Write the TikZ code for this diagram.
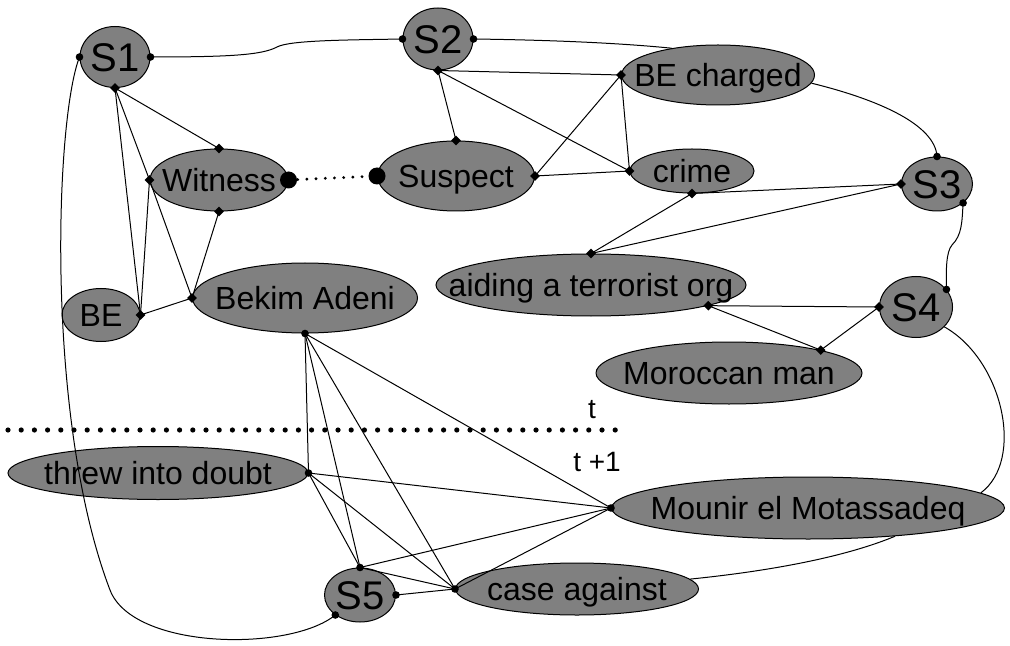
\documentclass[tikz,border=0pt]{standalone}
\usepackage{fontspec}
\setmainfont{Liberation Sans}
\usetikzlibrary{shapes.geometric}
\definecolor{nodegray}{RGB}{128,128,128}
\tikzset{
  ell/.style={ellipse, draw=black, fill=nodegray, inner sep=0pt, line width=0.5pt},
  etxt/.style={font=\fontsize{16}{18}\selectfont, inner sep=0pt, text height=11.5pt, text depth=0pt},
  stxt/.style={font=\fontsize{20}{22}\selectfont, inner sep=0pt, text height=14.3pt, text depth=0pt},
  dotc/.style={circle, fill=black, inner sep=0pt, minimum size=3.8pt},
  dotd/.style={diamond, fill=black, inner sep=0pt, minimum size=5pt},
  bigdot/.style={circle, fill=black, inner sep=0pt, minimum size=8.5pt},
  conn/.style={line width=0.5pt},
  timeline/.style={line width=2.6pt, line cap=round, dash pattern=on 0pt off 6.6pt},
  smalldots/.style={line width=1.6pt, line cap=round, dash pattern=on 0pt off 4.6pt},
  lbl/.style={font=\fontsize{14}{16}\selectfont, inner sep=0pt}
}
\begin{document}
\begin{tikzpicture}[x=0.5pt,y=-0.5pt]
\useasboundingbox (0,0) rectangle (1010,646);
% nodes
\node[ell, minimum width=35pt, minimum height=30.5pt, label={[stxt]center:S1}] (S1) at (115,57) {};
\node[ell, minimum width=35pt, minimum height=31pt, label={[stxt]center:S2}] (S2) at (438,39) {};
\node[ell, minimum width=96.5pt, minimum height=30pt, label={[etxt]center:BE charged}] (BEc) at (718,75) {};
\node[ell, minimum width=69pt, minimum height=31pt, label={[etxt]center:Witness}] (Wit) at (219,180) {};
\node[ell, minimum width=78.5pt, minimum height=35pt, label={[etxt]center:Suspect}] (Sus) at (456,176) {};
\node[ell, minimum width=62pt, minimum height=22pt, label={[etxt]center:crime}] (crime) at (692,171) {};
\node[ell, minimum width=35.5pt, minimum height=27pt, label={[stxt]center:S3}] (S3) at (937,184) {};
\node[ell, minimum width=39pt, minimum height=26.5pt, label={[etxt]center:BE}] (BE) at (101,315) {};
\node[ell, minimum width=112.5pt, minimum height=35pt, label={[etxt]center:Bekim Adeni}] (Bek) at (305,298) {};
\node[ell, minimum width=155pt, minimum height=31pt, label={[etxt]center:aiding a terrorist org}] (aid) at (591,285) {};
\node[ell, minimum width=36.5pt, minimum height=30.5pt, label={[stxt]center:S4}] (S4) at (916,307) {};
\node[ell, minimum width=133pt, minimum height=31pt, label={[etxt]center:Moroccan man}] (Mor) at (729,373) {};
\node[ell, minimum width=150pt, minimum height=26.5pt, label={[etxt]center:threw into doubt}] (threw) at (158,473) {};
\node[ell, minimum width=196.5pt, minimum height=31pt, label={[etxt]center:Mounir el Motassadeq}] (Mou) at (808,508) {};
\node[ell, minimum width=35.5pt, minimum height=27pt, label={[stxt]center:S5}] (S5) at (360,595) {};
\node[ell, minimum width=121.5pt, minimum height=26pt, label={[etxt]center:case against}] (case) at (577,589) {};
% time separator
\coordinate (tl) at (8,430);
\coordinate (tr) at (625,430);
\draw[timeline] (tl) -- (tr);
\node[lbl] (t) at (592,410) {t};
\node[lbl] (t1) at (597,462) {t +1};
% curved connectors
\draw[conn] (S1.east) .. controls (230,57) and (262,55) .. (277,47) .. controls (290,40) and (350,40) .. (S2.west);
\draw[conn] (S2.east) .. controls (550,40) and (620,43) .. (BEc.150);
\draw[conn] (BEc.-5) .. controls (880,100) and (935,125) .. (S3.north);
\draw[conn] (S3.-36) .. controls (962,222) and (962,235) .. (952,245) .. controls (946,252) and (946,270) .. (S4.30);
\draw[conn] (S4.-35) .. controls (1003,360) and (1025,460) .. (Mou.5);
\draw[conn] (case.5) .. controls (780,570) and (850,555) .. (Mou.-18);
\draw[conn] (S1.west) .. controls (55,120) and (45,420) .. (110,590) .. controls (133,650) and (290,652) .. (S5.-141);
% straight connectors
\draw[conn] (S2.south) -- (BEc.west);
\draw[conn] (S2.south) -- (Sus.north);
\draw[conn] (S2.south) -- (crime.west);
\draw[conn] (BEc.west) -- (Sus.east);
\draw[conn] (BEc.west) -- (crime.west);
\draw[conn] (Sus.east) -- (crime.west);
\draw[conn] (crime.south) -- (aid.north);
\draw[conn] (S3.west) -- (crime.south);
\draw[conn] (S3.west) -- (aid.north);
\draw[conn] (aid.-10) -- (S4.west);
\draw[conn] (Mor.14) -- (S4.west);
\draw[conn] (aid.-10) -- (Mor.14);
\draw[conn] (S1.south) -- (Wit.north);
\draw[conn] (S1.south) -- (Wit.west);
\draw[conn] (S1.south) -- (BE.east);
\draw[conn] (Wit.west) -- (Bek.west);
\draw[conn] (Wit.west) -- (BE.east);
\draw[conn] (Wit.south) -- (Bek.west);
\draw[conn] (BE.east) -- (Bek.west);
\draw[smalldots] (Wit.east) -- (Sus.west);
\draw[conn] (Bek.south) -- (threw.east);
\draw[conn] (Bek.south) -- (S5.north);
\draw[conn] (Bek.south) -- (case.west);
\draw[conn] (Bek.south) -- (Mou.west);
\draw[conn] (threw.east) -- (Mou.west);
\draw[conn] (threw.east) -- (S5.north);
\draw[conn] (threw.east) -- (case.west);
\draw[conn] (S5.north) -- (Mou.west);
\draw[conn] (S5.north) -- (case.west);
\draw[conn] (S5.east) -- (case.west);
\draw[conn] (case.west) -- (Mou.west);
% end markers
\node[dotc] (m1) at (S1.west) {};
\node[dotc] (m2) at (S1.east) {};
\node[dotd] (m3) at (S1.south) {};
\node[dotc] (m4) at (S2.west) {};
\node[dotc] (m5) at (S2.east) {};
\node[dotd] (m6) at (S2.south) {};
\node[dotd] (m7) at (BEc.west) {};
\node[dotd] (m8) at (Wit.north) {};
\node[dotd] (m9) at (Wit.west) {};
\node[dotd] (m10) at (Wit.south) {};
\node[bigdot] (m11) at (Wit.east) {};
\node[bigdot] (m12) at (Sus.west) {};
\node[dotd] (m13) at (Sus.north) {};
\node[dotd] (m14) at (Sus.east) {};
\node[dotd] (m15) at (crime.west) {};
\node[dotd] (m16) at (crime.south) {};
\node[dotc] (m17) at (S3.north) {};
\node[dotd] (m18) at (S3.west) {};
\node[dotc] (m19) at (S3.-36) {};
\node[dotd] (m20) at (aid.north) {};
\node[dotd] (m21) at (aid.-10) {};
\node[dotd] (m22) at (S4.west) {};
\node[dotc] (m23) at (S4.30) {};
\node[dotd] (m24) at (Mor.14) {};
\node[dotd] (m25) at (BE.east) {};
\node[dotd] (m26) at (Bek.west) {};
\node[dotc] (m27) at (Bek.south) {};
\node[dotc] (m28) at (threw.east) {};
\node[dotc] (m29) at (Mou.west) {};
\node[dotc] (m30) at (S5.north) {};
\node[dotc] (m31) at (S5.east) {};
\node[dotc] (m32) at (S5.-141) {};
\node[dotc] (m33) at (case.west) {};
\end{tikzpicture}
\end{document}
